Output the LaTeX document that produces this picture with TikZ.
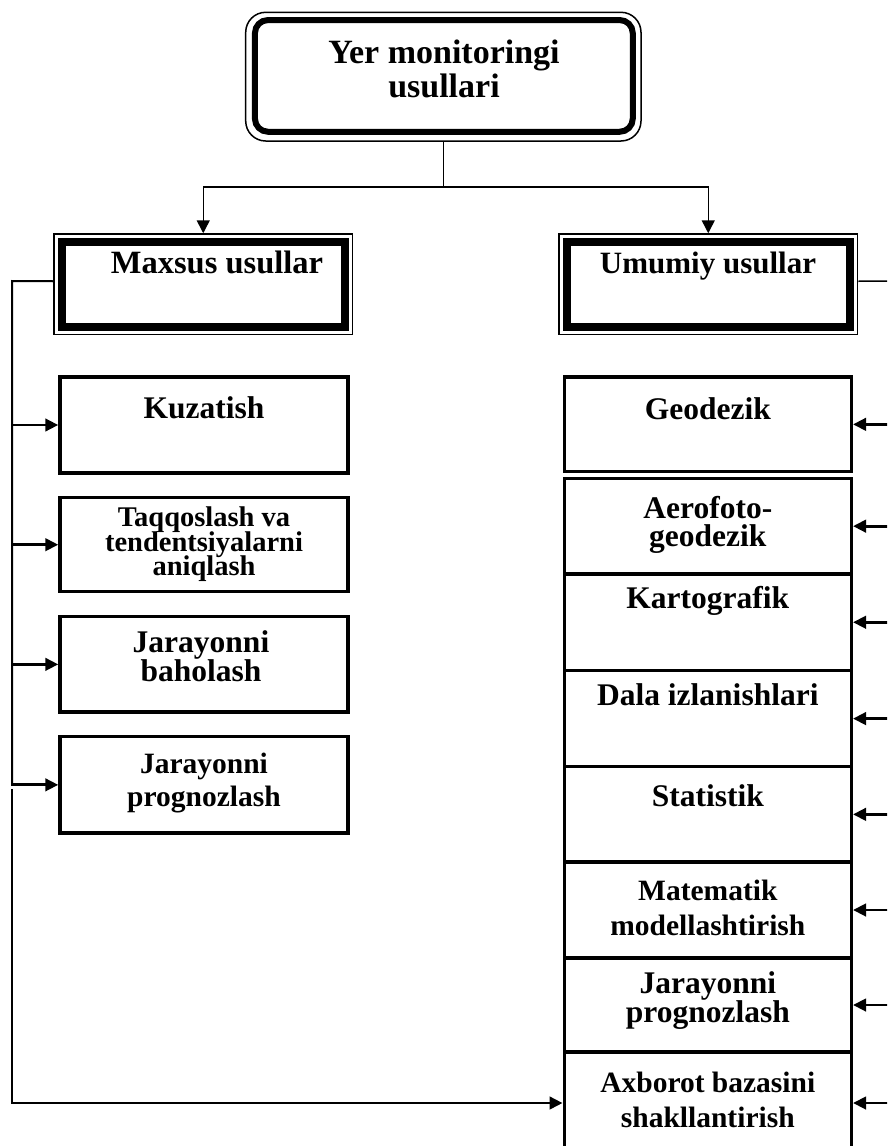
\documentclass[tikz,border=0pt]{standalone}
\usepackage{fontspec}
\setmainfont{Liberation Serif}
\usetikzlibrary{arrows.meta,calc}

% bold label font: size, fixed line pitch
\newcommand\lblfont[2]{\fontsize{#1}{#2}\selectfont\bfseries\lineskiplimit=-100pt\relax}

\begin{document}
\begin{tikzpicture}[x=1pt,y=-1pt,
  lbl/.style={anchor=base, inner sep=0pt, text width=280pt, align=flush center},
  hdr/.style={draw, line width=1.5pt, rectangle, inner sep=0pt,
              minimum width=298.5pt, minimum height=100.5pt},
  leaf/.style={draw, line width=3.5pt, rectangle, inner sep=0pt},
  lleaf/.style={leaf, minimum width=288pt},
  rleaf/.style={leaf, minimum width=287pt},
  conn/.style={line width=2pt, line cap=rect},
  tconn/.style={line width=1.5pt},
  arr/.style={line width=2.8pt, -{Triangle[length=13pt,width=12.5pt]}},
  tarr/.style={line width=1.5pt, -{Triangle[length=13pt,width=13pt]}}
]
\useasboundingbox (0,0) rectangle (887,1146);
\clip (0,0) rectangle (887,1146);

% ---- root
\node[draw, line width=1.5pt, rounded corners=20pt, inner sep=0pt,
      minimum width=395.3pt, minimum height=128.7pt] (top) at (443.35,76.65) {};
\draw[line width=6pt, rounded corners=13pt]
  ($(top.north west)+(10,8.5)$) rectangle ($(top.south east)+(-9,-10)$);
\node[lbl, font=\lblfont{34}{34}] (top-t) at (444,63) {Yer monitoringi\\usullari};

% ---- two method groups
\node[hdr] (maxsus) at (203.25,284.25) {};
\draw[line width=8.5pt]
  ($(maxsus.north west)+(8.5,8.5)$) rectangle ($(maxsus.south east)+(-8.5,-8.5)$);
\node[lbl, font=\lblfont{32.5}{31}] (maxsus-t) at (217,273) {Maxsus usullar};

\node[hdr] (umu) at (708.25,284.25) {};
\draw[line width=8.5pt]
  ($(umu.north west)+(8.5,8.5)$) rectangle ($(umu.south east)+(-8.5,-8.5)$);
\node[lbl, font=\lblfont{31}{31}] (umu-t) at (708,273) {Umumiy usullar};

\coordinate (J) at (443.35,187);
\draw[tconn] (top.south) -- (J);
\draw[tarr] (J) -| (maxsus.north);
\draw[tarr] (J) -| (umu.north);

% ---- special methods (left column)
\node[lleaf, minimum height=96pt]   (kuz)  at (204,425) {};
\node[lleaf, minimum height=94pt]   (taq)  at (204,544.7) {};
\node[lleaf, minimum height=95.3pt] (bah)  at (204,664.35) {};
\node[lleaf, minimum height=96.3pt] (prog) at (204,784.85) {};

\node[lbl, font=\lblfont{31.5}{30}]   (kuz-t)  at (204,418.3) {Kuzatish};
\node[lbl, font=\lblfont{28.5}{24.5}] (taq-t)  at (204,526.7) {Taqqoslash va\\tendentsiyalarni\\aniqlash};
\node[lbl, font=\lblfont{31.5}{29}]   (bah-t)  at (201,652.7) {Jarayonni\\baholash};
\node[lbl, font=\lblfont{29.5}{33}]   (prog-t) at (204,773.3) {Jarayonni\\prognozlash};

% ---- general methods (right column, stacked)
\node[rleaf, minimum height=94.7pt] (geo)  at (707.8,424.35) {};
\node[rleaf, minimum height=95.7pt] (aero) at (707.8,526.15) {};
\node[rleaf, minimum height=96.5pt] (kart) at (707.8,622.25) {};
\node[rleaf, minimum height=96.2pt] (dala) at (707.8,718.6) {};
\node[rleaf, minimum height=95.3pt] (stat) at (707.8,814.35) {};
\node[rleaf, minimum height=96pt]   (mat)  at (707.8,910) {};
\node[rleaf, minimum height=94pt]   (jpr)  at (707.8,1005) {};
\node[rleaf, minimum height=102pt]  (axb)  at (707.8,1103) {};

\node[lbl, font=\lblfont{31.5}{30}]   (geo-t)  at (707.8,419.3) {Geodezik};
\node[lbl, font=\lblfont{31.5}{28.5}] (aero-t) at (707.8,518.3) {Aerofoto-\\geodezik};
\node[lbl, font=\lblfont{31.5}{30}]   (kart-t) at (707.8,608.3) {Kartografik};
\node[lbl, font=\lblfont{31.5}{30}]   (dala-t) at (707.8,705) {Dala izlanishlari};
\node[lbl, font=\lblfont{31.5}{30}]   (stat-t) at (707.8,806.7) {Statistik};
\node[lbl, font=\lblfont{29.5}{34.3}] (mat-t)  at (707.8,900.7) {Matematik\\modellashtirish};
\node[lbl, font=\lblfont{31.5}{29}]   (jpr-t)  at (707.8,993.3) {Jarayonni\\prognozlash};
\node[lbl, font=\lblfont{29.5}{35}]   (axb-t)  at (707.8,1092.3) {Axborot bazasini\\shakllantirish};

% ---- left feed line
\coordinate (L0) at (12,281);
\draw[conn] ([yshift=3pt]maxsus.west) -- (L0) -- (L0 |- prog.west);
\draw[arr] (L0 |- kuz.west)  -- (kuz.west);
\draw[arr] (L0 |- taq.west)  -- (taq.west);
\draw[arr] (L0 |- bah.west)  -- (bah.west);
\draw[arr] (L0 |- prog.west) -- (prog.west);

\coordinate (L5) at (12,790);
\draw[conn] (L5) -- (L5 |- axb.west);
\draw[arr] (L5 |- axb.west) -- (axb.west);

% ---- right feed line
\coordinate (R0) at (890,281);
\draw[tconn] ([yshift=3pt]umu.east) -- (R0);
\draw[conn] (R0) -- (R0 |- axb.east);
\draw[arr] (R0 |- geo.east)  -- (geo.east);
\draw[arr] (R0 |- aero.east) -- (aero.east);
\draw[arr] (R0 |- kart.east) -- (kart.east);
\draw[arr] (R0 |- dala.east) -- (dala.east);
\draw[arr] (R0 |- stat.east) -- (stat.east);
\draw[arr] (R0 |- mat.east)  -- (mat.east);
\draw[arr] (R0 |- jpr.east)  -- (jpr.east);
\draw[arr] (R0 |- axb.east)  -- (axb.east);
\end{tikzpicture}
\end{document}
